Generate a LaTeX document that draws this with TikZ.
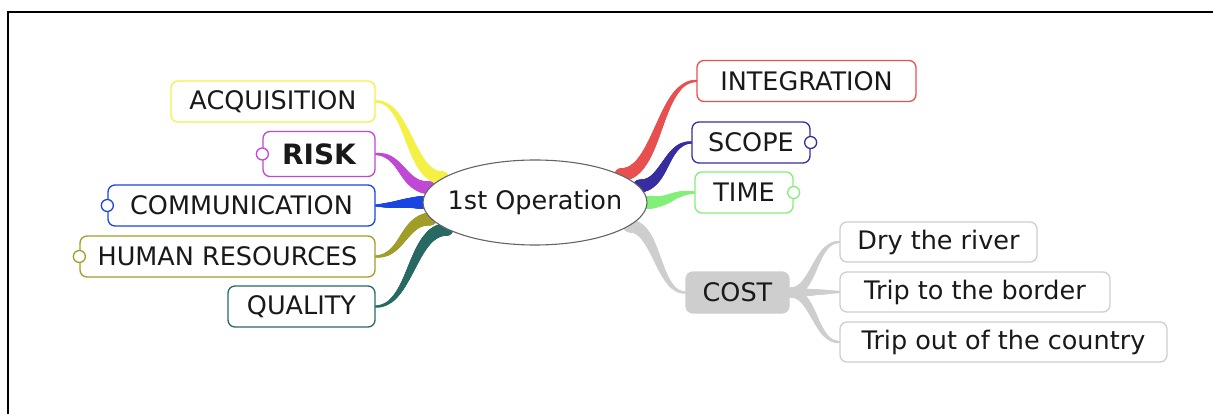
\documentclass[tikz,border=0pt]{standalone}
\usepackage{fontspec}
\setmainfont{DejaVu Sans}
\usetikzlibrary{shapes.geometric,calc,decorations.markings,backgrounds}
\definecolor{cyel}{RGB}{245,240,70}
\definecolor{cmag}{RGB}{192,72,212}
\definecolor{cblue}{RGB}{25,70,225}
\definecolor{colive}{RGB}{160,158,40}
\definecolor{cteal}{RGB}{40,105,100}
\definecolor{cred}{RGB}{232,80,80}
\definecolor{cdblue}{RGB}{55,45,160}
\definecolor{cgreen}{RGB}{130,240,120}
\definecolor{cgray}{RGB}{206,206,206}
\definecolor{egray}{RGB}{100,100,100}
\definecolor{txt}{RGB}{25,25,25}
\tikzset{
  box/.style={draw=#1, rounded corners=7pt, line width=1.3pt, fill=white, inner sep=0pt,
    minimum height=41pt, text=txt, font=\fontsize{25.5}{30}\selectfont},
  knob/.style={circle, draw=#1, fill=white, line width=1.3pt, minimum size=12pt, inner sep=0pt},
  taper/.style n args={3}{decoration={markings,
    mark=between positions 0 and 1 step 0.6pt with {%
      \pgfmathsetmacro\tw{#2+(#3-#2)*\pgfkeysvalueof{/pgf/decoration/mark info/distance from start}/\pgfdecoratedpathlength}%
      \fill[#1] (0pt,0pt) circle (\tw pt);}},
    postaction=decorate}
}
\newcommand\mmlink[5]{\path[taper={#3}{#4}{#5}] let \p1=(#1), \p2=(#2) in
  (\p1) .. controls ({(\x1+\x2)/2},\y1) and ({(\x1+\x2)/2},\y2) .. (\p2);}
\begin{document}
\begin{tikzpicture}[x=1pt,y=-1pt]
\useasboundingbox (0,0) rectangle (1213,414);
\coordinate (f1) at (7,12);
\coordinate (f2) at (1213,12);
\coordinate (f3) at (8,414);
\draw[line width=2pt] (f2) -- (f1 -| f3) -- (f3);

% central node
\node[ellipse, draw=egray, fill=white, line width=1.1pt, minimum width=224pt, minimum height=85pt,
  inner xsep=-10pt, inner ysep=0pt, text=txt, font=\fontsize{25.5}{30}\selectfont] (e) at (535,202.5) {1st Operation};

% left branches
\node[box=cyel, minimum width=204pt] (acq) at (273,101.5) {ACQUISITION};
\node[box=cmag, minimum width=112pt, minimum height=45pt, font=\fontsize{28}{32}\selectfont\bfseries] (risk) at (319,154) {RISK};
\node[box=cblue, minimum width=267pt] (comm) at (241.5,205.5) {COMMUNICATION};
\node[box=colive, minimum width=295pt] (hr) at (227.5,256.5) {HUMAN RESOURCES};
\node[box=cteal, minimum width=147pt] (qual) at (301.5,306.5) {QUALITY};

% right branches
\node[box=cred, minimum width=219pt] (integ) at (806.5,81) {INTEGRATION};
\node[box=cdblue, minimum width=118pt] (scope) at (751,142.5) {SCOPE};
\node[box=cgreen, minimum width=98pt] (time) at (744,192.5) {TIME};
\node[box=cgray, fill=cgray, minimum width=103pt] (cost) at (737.5,292.5) {COST};
\node[box=cgray, minimum width=197pt, minimum height=40pt] (dry) at (938.5,242) {Dry the river};
\node[box=cgray, minimum width=270pt, minimum height=40pt] (border) at (975,292) {Trip to the border};
\node[box=cgray, minimum width=327pt, minimum height=40pt] (country) at (1003.5,342) {Trip out of the country};

% fold knobs
\node[knob=cmag] (riskk) at (risk.west) {};
\node[knob=cblue] (commk) at (comm.west) {};
\node[knob=colive] (hrk) at (hr.west) {};
\node[knob=cdblue] (scopek) at (scope.east) {};
\node[knob=cgreen] (timek) at (time.east) {};

% connectors
\begin{scope}[on background layer]
\mmlink{acq.east}{e.165}{cyel}{1.2}{6.5}
\mmlink{risk.east}{e.172}{cmag}{1.2}{6.5}
\mmlink{comm.east}{e.west}{cblue}{1.2}{6.5}
\mmlink{hr.east}{e.189}{colive}{1.2}{6.5}
\mmlink{qual.east}{e.197}{cteal}{1.2}{6.5}
\mmlink{integ.west}{e.18}{cred}{1.2}{6.5}
\mmlink{scope.west}{e.9}{cdblue}{1.2}{6.5}
\mmlink{time.west}{e.east}{cgreen}{1.2}{6.5}
\mmlink{cost.west}{e.-14}{cgray}{1.2}{6.5}
\mmlink{dry.west}{cost.east}{cgray}{1.2}{5}
\mmlink{border.west}{cost.east}{cgray}{1.2}{5}
\mmlink{country.west}{cost.east}{cgray}{1.2}{5}
\end{scope}
\end{tikzpicture}
\end{document}
